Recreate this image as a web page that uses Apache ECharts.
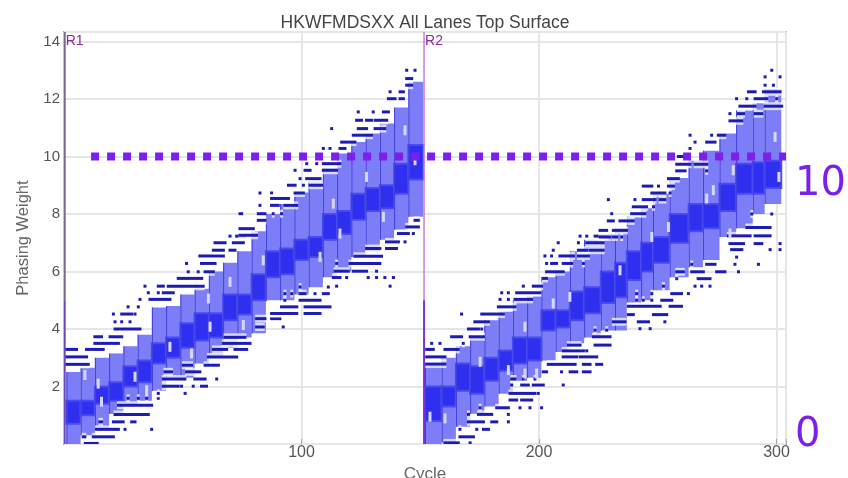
<!DOCTYPE html>
<html><head><meta charset="utf-8">
<style>html,body{margin:0;padding:0;background:#fff}#c{width:848px;height:478px}</style>
<script src="https://cdn.jsdelivr.net/npm/echarts@6/dist/echarts.min.js"></script>
</head><body><div id="c"></div>
<script>
var groupStart=[1,7,13,19,25,31,37,43,49,55,61,67,73,79,85,91,97,103,109,115,121,127,133,139,145,
152,159,165,171,177,183,189,195,201,207,213,219,226,232,237,243,248,255,263,269,276,283,290,295];
var groupEnd=[7,13,19,25,31,37,43,49,55,61,67,73,79,85,91,97,103,109,115,121,127,133,139,145,151.3,
159,165,171,177,183,189,195,201,207,213,219,226,232,237,243,248,255,263,269,276,283,290,295,302];
var whiskerLow=[0,.3,.5,1.05,1.35,1.5,1.85,2.3,2.3,2.8,3,3.35,3.7,3.85,5,5,5.2,5.45,5.8,6,6.5,6.7,7.1,7.45,7.9,
0,.05,.6,1.05,1.3,1.75,2.2,2.3,2.9,3.2,3.5,3.7,3.95,3.95,4.9,5,5.35,5.8,6.15,6.4,7.2,7.5,8,8.35];
var whiskerHigh=[2.5,2.65,3,3.15,3.4,3.8,4.75,4.8,5.2,5.4,6,6.3,6.7,7.4,8,8.35,8.75,9.15,9.6,10.1,10.5,10.8,11.15,11.7,12.6,
2.8,3,3.4,3.7,4.3,4.6,5,5.15,5.8,6,6.7,7.1,7.3,7.5,7.9,8.2,8.7,9.25,9.85,10.2,10.8,11.6,11.85,12.35];
var quart1=[.7,1,1.4,1.5,2,2.15,2.8,3,3.35,3.6,3.7,4.3,4.5,5,5.8,5.9,6.4,6.5,7.1,7.3,7.8,8.1,8.2,8.7,9.2,
.8,1.3,1.85,1.75,2.2,2.55,2.8,2.9,3.95,4.05,4.3,4.55,4.9,5.1,5.7,6,6.3,7,7.4,7.5,8.1,8.7,8.7,8.9];
var quart3=[1.5,1.5,2,2.15,2.7,2.9,3.5,3.7,4.2,4.55,4.55,5.2,5.2,5.9,6.7,6.8,7.1,7.2,8,8.1,8.7,8.9,9,9.75,10.4,
2,2,2.8,2.7,3,3.25,3.7,3.7,4.65,4.65,5.3,5.45,6,6.3,6.7,7,7.2,8,8.35,8.35,9.05,9.75,9.8,9.85];
var outlierRuns=[
[1.1,5.3,3.29],[9.5,16.5,3.29],[1.1,9.5,3.03],[1.1,10.2,2.77],[13,22.9,3.5],[13,15.8,3.73],[19.4,24.3,3.73],[21.5,32,4],[21.5,21.5,4.25],[24.3,24.3,4.25],[27.8,27.8,4.25],[20.8,20.8,4.52],[24.3,28.5,4.52],[29.9,29.9,4.52],[27,27,4.77],[31.3,31.3,4.77],[32,32,5.03],[36.2,44.6,5.03],[35.5,35.5,5.26],[39.7,39.7,5.26],[41.8,46,5.26],[34.1,34.1,5.49],[39.7,41.8,5.49],[43.9,58.6,5.49],[48.1,58,5.76],[52.3,52.3,5.99],[56.5,56.5,5.99],[59.4,62.9,5.99],[51.6,51.6,6.28],[57.9,63.6,6.28],[57.2,67.1,6.54],[62.9,67.1,6.74],[69.9,72,6.74],[63.6,67.8,7],[71.3,75.5,7],[69.9,69.9,7.23],[72.7,76.2,7.23],
[9,14,.02],[8.1,8.8,.25],[12.3,20.8,.25],[13.7,22.9,.51],[25.7,25.7,.51],[36.9,36.9,.51],[15.1,15.8,.77],[20.8,24.9,.77],[28.5,29.9,.77],[21.5,35.5,1.03],[22.9,36.9,1.35],[27,27,1.59],[31.3,31.3,1.59],[34.8,34.8,1.59],[39.7,39.7,1.59],[39.7,39.7,1.76],[51,51,1.76],[41.8,48.1,2.01],[49.5,49.5,2.01],[54.4,54.4,2.01],[57.9,60,2.01],[41.8,50.9,2.26],[55.1,59.4,2.26],[64.3,64.3,2.26],[42.5,45.3,2.51],[51.6,57.2,2.51],[50.2,53.7,2.74],[59.4,65,2.74],[60.8,72.7,3.03],[62.9,68.5,3.29],[72,76.9,3.29],[67.1,78.3,3.5],[67.8,76.2,3.71],
[144.3,144.3,13],[147.8,147.8,13],[144.3,146.4,12.71],[144.3,146.4,12.48],[137.3,137.3,12.25],[141.5,142.9,12.25],[136.6,139.4,12.01],[141.5,142.9,12.01],[123.9,123.9,11.55],[130.2,130.2,11.55],[134.5,136.6,11.55],[123.2,125.3,11.26],[127.4,129.5,11.26],[131,135.9,11.26],[112.7,112.7,10.97],[123.9,127.4,10.97],[131,135.1,10.97],[121.8,129.5,10.74],[116.9,122.5,10.5],[109.2,109.2,10.28],[112,112,10.28],[116.2,118.3,10.28],[102.2,102.2,9.75],[106.4,106.4,9.75],[109.2,116.2,9.75],[97.3,97.3,9.52],[101.5,103.6,9.52],[109.2,114.8,9.52],[99.4,99.4,9.23],[102.2,107.8,9.23],[94.5,97.3,9],[100.8,100.8,9],[103.6,108.5,9],[82.5,82.5,8.73],[87.4,87.4,8.73],[97.3,100.8,8.73],[87.4,94.5,8.54],[82.5,82.5,8.3],[87.4,90.2,8.3],[93,98,8.3],[74.1,74.8,8.01],[81.8,84.6,8.01],[88.1,88.1,8.01],[91.6,91.6,8.01],[81.8,84.6,7.78],[74.1,79.7,7.49],[74.1,81.1,7.26],
[81.1,83.9,4.07],[92.3,92.3,4.07],[81.1,84.6,4.36],[87.4,90.9,4.36],[87.4,98,4.54],[101.5,107.8,4.54],[91.6,98,4.77],[101.5,112,4.77],[93,93,5],[99.4,107.8,5],[93,93,5.23],[95.9,95.9,5.23],[99.4,101.5,5.23],[105.7,105.7,5.23],[109.2,111.3,5.23],[99.4,99.4,5.46],[111.3,111.3,5.46],[113.4,116.2,5.79],[119,119,5.79],[128.1,128.1,5.79],[131.6,131.6,5.79],[135.1,135.1,5.79],[138.7,138.7,5.79],[114.8,114.8,5.49],[137.3,137.3,5.49],[114.1,119.7,6.01],[121.8,127.4,6.01],[131.6,131.6,6.01],[114.8,114.8,6.28],[120.4,133,6.28],[122.5,133.7,6.53],[127.4,133,6.8],[135.8,140,6.8],[135.8,140.8,7.03],[143.6,143.6,7.03],[140.8,145,7.32],[147.1,147.1,7.32],[144.3,149.2,7.55],[147.8,149.2,7.78],
[152.7,155.5,3.29],[160.4,166,3.29],[152.7,160.4,3.03],[152.7,160.4,2.78],[154.8,154.8,3.5],[158.3,158.3,3.5],[168.1,168.1,3.5],[163.2,167.4,3.73],[171,176.6,3.73],[170.3,174.5,4],[175.9,175.9,4],[173,178.7,4.25],[167.4,167.4,4.52],[175.9,185,4.52],[182.9,189.9,4.77],[183.6,183.6,5.03],[187.1,187.1,5.03],[189.9,196.9,5.03],[184.3,184.3,5.26],[187.1,187.1,5.26],[190.6,200.4,5.26],[193.4,193.4,5.49],[197.6,201.1,5.49],[201.8,203.2,5.76],[203.2,210.2,5.99],[203.2,203.2,6.28],[205.3,207.4,6.28],[210.2,213.8,6.28],[218.7,218.7,6.28],[202.5,202.5,6.54],[205.3,205.3,6.54],[208.8,214.5,6.54],[216.6,220.8,6.54],[206,206,6.74],[216.6,220.1,6.74],[221.5,227,6.74],[208.1,208.1,7],[216.6,216.6,7],[220.1,227,7],[217.3,217.3,7.23],[220.1,220.1,7.23],[223.6,228.5,7.23],
[160.4,166,.04],[171,171,.04],[166.7,172.4,.25],[166.7,166.7,.51],[173.8,173.8,.51],[176.6,178.7,.51],[170.3,176.6,.77],[180.1,182.2,.77],[187.1,187.1,.77],[170.3,170.3,1.03],[174.5,180.1,1.03],[187.1,187.1,1.03],[175.2,175.2,1.26],[182.2,187.1,1.26],[192,192,1.26],[196.2,196.2,1.26],[201.1,201.1,1.26],[187.8,190.6,1.53],[192.7,196.9,1.53],[187.8,198.3,1.76],[199.7,199.7,1.76],[188.5,188.5,2.05],[192.7,195.5,2.05],[197.6,201.8,2.05],[210.2,210.2,2.05],[188.5,189.9,2.26],[193.4,193.4,2.26],[198.3,198.3,2.26],[201.8,203.2,2.51],[209.5,209.5,2.51],[213.1,215.9,2.51],[218.7,221.5,2.51],[203.9,215.2,2.77],[218.7,221.5,2.77],[224.3,226.4,2.77],[210.2,215.9,3.03],[217.3,224.3,3.03],[210.2,218.7,3.24],[220.1,220.1,3.24],[212.4,217.3,3.44],[223.6,229.9,3.44],[222.9,229.9,3.73],[223.6,223.6,3.96],[228.5,228.5,3.96],
[298,298,13],[295.2,295.2,12.77],[301.5,301.5,12.77],[295.2,295.2,12.48],[298.7,298.7,12.48],[288.2,291,12.25],[294.5,301.5,12.25],[283.2,283.2,12.01],[287.5,287.5,12.01],[291,295.9,12.01],[300.1,300.1,12.01],[284.6,291,11.75],[295.2,302.2,11.75],[280.4,280.4,11.49],[284,286.1,11.49],[291,293.8,11.49],[280.4,285.4,11.24],[263.6,263.6,10.74],[272.7,272.7,10.74],[275.5,278.3,10.74],[265.7,265.7,10.5],[270.6,274.1,10.5],[263.6,263.6,10.28],[258.7,262.2,10],[258,263.6,9.73],[265.7,270.6,9.73],[258,261.5,9.5],[270.6,270.6,9.5],[254.5,258.7,9.23],[243.9,247.5,8.97],[250.3,250.3,8.97],[254.5,256.6,8.97],[247.5,253,8.73],[255.2,255.2,8.73],[229.2,229.2,8.5],[240.4,240.4,8.5],[243.9,248.9,8.5],[251,253,8.5],[239.7,245.3,8.25],[248.2,248.2,8.25],[230.6,230.6,8.01],[239,244.6,8.01],[229.2,231.3,7.76],[234.1,239.7,7.76],[225.7,228.5,7.43],[231.3,236.9,7.43],[225.7,229.9,7.2],[231.3,232.7,7.2],[234.8,234.8,7.2],
[242.5,242.5,4.01],[246.8,246.8,4.01],[231.3,236.2,4.25],[241.8,246.1,4.25],[253,253,4.25],[237.6,239.7,4.5],[248.2,253.8,4.5],[237.6,251,4.79],[255.2,260,4.79],[241.1,241.1,5],[243.9,243.9,5],[247.5,247.5,5],[251.7,255.9,5],[241.1,241.1,5.23],[247.5,247.5,5.23],[255.9,260,5.23],[262.9,262.9,5.23],[252.4,252.4,5.49],[265.7,265.7,5.49],[268.5,268.5,5.49],[272,272,5.49],[258,258,5.75],[267,272,5.75],[258,260.8,5.99],[264.3,269.2,5.99],[274.8,278.3,5.99],[284,284,5.99],[264.3,264.3,6.25],[270.6,274.1,6.25],[282.5,282.5,6.25],[292.4,292.4,6.25],[283.2,283.2,6.5],[281.1,285.4,6.76],[297.3,297.3,6.76],[301.5,301.5,6.76],[280.4,286.1,6.97],[291,293.8,6.97],[301.5,301.5,6.97],[279.7,288.9,7.24],[291,297.3,7.24],[287.5,297.3,7.53],[289.6,289.6,8],[298,298,8]
];
var gapPoints=[[15.8,1.47],[8.8,2.4],[14.4,2.1],[29.9,2.34],[34.8,1.87],[44.6,3.38],[53.7,3.15],[60.8,5.06],[61.5,4.08],[69.9,5.64],[75.5,4.14],
[83.9,6.39],[113.4,8.36],[134.5,7.9],[127.4,9.29],[143.6,10.91],[107.8,6.51],[116.2,7.32],[147.8,9.87],
[175.2,2.86],[194.1,4.08],[206,4.89],[213,5.12],[199,2.45],[194.1,2.45],[160.4,.89],[154.1,.95],[187.1,2.57],
[247.5,7.2],[254.5,7.55],[273.4,8.83],[281.8,9.52],[299.4,10.68],[301,9.29],[280.4,7.32],[234.1,6.04],[270.6,8.54]];
var readNames=['R1','R2'];
var readCycles=[0.3,151.6];
var readBreak=5;
var referenceValue=10;
var referenceFrom=11.4;
var referenceTo=304;
var xTicks=[100,200,300];
var yMax=14.33;

var boxData=groupStart.map(function(s,i){return [s,groupEnd[i],whiskerLow[i],whiskerHigh[i],quart1[i],quart3[i]];});
var readData=readNames.map(function(n,i){return [readCycles[i],n];});

var chart=echarts.init(document.getElementById('c'),null,{renderer:'canvas'});
var font='"Liberation Sans",Arial,sans-serif';
chart.setOption({
  animation:false,backgroundColor:'#fff',
  title:{text:'HKWFMDSXX All Lanes Top Surface',left:420,textAlign:'center',top:9,
    textStyle:{fontFamily:font,fontSize:17.5,fontWeight:'normal',color:'#444'}},
  grid:{left:64,right:62,top:32,bottom:34,outerBoundsMode:'none',show:true,borderColor:'#a8a8a8',borderWidth:2,backgroundColor:'#fff'},
  xAxis:{type:'value',min:0,max:304,interval:100,name:'Cycle',nameLocation:'middle',nameGap:16,
    nameTextStyle:{fontFamily:font,fontSize:17,color:'#666'},
    axisLine:{show:false},axisTick:{show:true,inside:true,length:5,lineStyle:{color:'#aaa'}},
    axisLabel:{fontFamily:font,fontSize:16,color:'#555',margin:1,
      formatter:function(v){return xTicks.indexOf(v)>=0?String(v):'';}},
    splitLine:{show:true,lineStyle:{color:'#e6e6e6',width:2}}},
  yAxis:{type:'value',min:0,max:yMax,interval:2,name:'Phasing Weight',nameLocation:'middle',nameGap:27,
    nameTextStyle:{fontFamily:font,fontSize:16.5,color:'#666'},
    axisLine:{show:false},axisTick:{show:false},
    axisLabel:{fontFamily:font,fontSize:15,color:'#555',margin:4,showMinLabel:false,showMaxLabel:false},
    splitLine:{show:true,lineStyle:{color:'#e6e6e6',width:2}}},
  series:[
   {type:'custom',name:'boxes',data:boxData,silent:true,clip:true,z:2,
    encode:{x:[0,1],y:[2,3]},
    renderItem:function(p,api){
      var x0=api.coord([api.value(0),0])[0],x1=api.coord([api.value(1),0])[0];
      var lo=api.coord([0,api.value(2)])[1],hi=api.coord([0,api.value(3)])[1];
      var q1=api.coord([0,api.value(4)])[1],q3=api.coord([0,api.value(5)])[1];
      return {type:'group',children:[
        {type:'rect',shape:{x:x0,y:hi,width:x1-x0,height:lo-hi},style:{fill:'#7d7df8'}},
        {type:'rect',shape:{x:x0,y:q3,width:x1-x0,height:q1-q3},style:{fill:'#2f2ff0',stroke:'#4a4af2',lineWidth:2}},
        {type:'line',shape:{x1:x0+.5,y1:hi,x2:x0+.5,y2:lo},style:{stroke:'#3e3ed8',lineWidth:1}}
      ]};
    }},
   {type:'custom',name:'outliers',data:outlierRuns,silent:true,clip:true,z:3,
    encode:{x:[0,1],y:2},
    renderItem:function(p,api){
      var a=api.coord([api.value(0),api.value(2)]),b=api.coord([api.value(1),api.value(2)]);
      return {type:'group',children:[
        {type:'rect',shape:{x:a[0]-1.5,y:a[1]-4,width:b[0]-a[0]+3,height:8},style:{fill:'rgba(255,255,255,0.7)'}},
        {type:'rect',shape:{x:a[0]-1.5,y:a[1]-1.5,width:b[0]-a[0]+3,height:3},style:{fill:'#1c1cb4'}}
      ]};
    }},
   {type:'custom',name:'gaps',data:gapPoints,silent:true,clip:true,z:3,
    encode:{x:0,y:1},
    renderItem:function(p,api){
      var a=api.coord([api.value(0),api.value(1)]);
      return {type:'rect',shape:{x:a[0]-1.5,y:a[1]-5,width:3,height:10},style:{fill:'#d8d8ff'}};
    }},
   {type:'custom',name:'reads',data:readData,silent:true,clip:false,z:4,
    encode:{x:0},
    renderItem:function(p,api){
      var x=api.coord([api.value(0),0])[0],b=api.coord([0,0])[1],t=api.coord([0,yMax])[1];
      var m=api.coord([0,readBreak])[1];
      var label=readNames[p.dataIndex];
      return {type:'group',children:[
        {type:'line',shape:{x1:x,y1:t,x2:x,y2:m},style:{stroke:p.dataIndex?'#c47edc':'#7a6a8c',lineWidth:p.dataIndex?1.5:2}},
        {type:'line',shape:{x1:x,y1:m,x2:x,y2:b},style:{stroke:p.dataIndex?'#7a30e0':'#6a4ab8',lineWidth:2}},
        {type:'text',style:{x:x+1,y:t+2,text:label,fill:'#8a2a9a',font:'14px '+font}}
      ]};
    }},
   {type:'line',name:'reference',data:[[referenceFrom,referenceValue],[referenceTo,referenceValue]],
    symbol:'none',silent:true,z:5,lineStyle:{color:'#7a20e8',width:8,type:[8,8]}}
  ],
  graphic:[
   {type:'text',left:795,top:165,style:{text:'10',fill:'#7a20e8',font:'40px "DejaVu Sans"'}},
   {type:'text',left:795,top:416,style:{text:'0',fill:'#7a20e8',font:'40px "DejaVu Sans"'}}
  ]
});
</script></body></html>
